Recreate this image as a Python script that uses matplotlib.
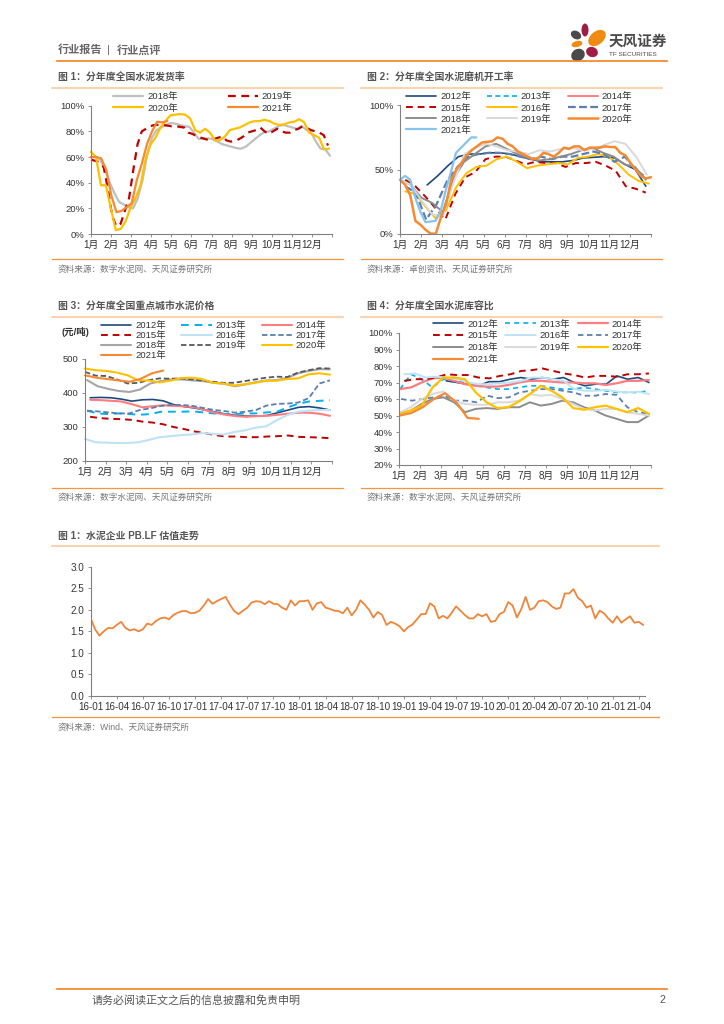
import numpy as np
import matplotlib
matplotlib.use('Agg')
import matplotlib.pyplot as plt
from matplotlib.patches import Ellipse

plt.rcParams['font.family'] = ['Liberation Sans', 'Noto Sans CJK SC', 'DejaVu Sans']
W, H = 724, 1024
months = ['1月','2月','3月','4月','5月','6月','7月','8月','9月','10月','11月','12月','']

# Chart 1: shipment rate (quarter-month readings)
c1_2018 = [60,60,58,50,40,32,25,23,21,20,28,42,62,75,81,83,85,86.5,86,85,84,83.5,79,74,74.5,74.5,74,72,70,69,68,67,66.5,68,71,74,77,79.5,80,82,84,85,84,83,82,84,81,79,72,66.5,66,61]
c1_2019 = [58,57,56,52,35,14,6,8,18,28,50,70,80,82,84,85,85,85,84.5,84,84,83.5,83,79,78,76,75,74,73,74,75,76,73,72,72.5,74,76,79,80,81,83,80,78,80,82,80,79,79,81,82,84,82.5,81,80,79,77,69]
c1_2020 = [64,60,38,38,20,3,4,10,21,28,38,58,70,75,83,88,92.5,93,93.5,93,90,81,79,82,79,73,73,76,81,82,83,85,87,88,88,89,88,86,85,85.5,87,87.5,89.5,87,79,77,75,66,66.5]
c1_2021 = [60,60,59,50,30,17,18,21,24,42,55,70,80,87.5,87,88]

# Chart 2: mill operating rate
c2_2012 = [38,45,53,60,62,62,63,63,62,60,58,56,56,56,57,59,59.5,60,59,54,50,37]
c2_2013 = []
c2_2014 = []
c2_2015 = [42,37,29,20,11,31,44,48,58,60,60,57,54,56,55,55,52,55,55,56,53,49,37,35,32]
c2_2016 = [33,31,21,12,18,36,47,52,53,58,60,56,51,53,54,55,54,59,60,62,60,54,46,41,39]
c2_2017 = [37,32,11,23,41,52,60,62,63,63,62,60,58,60,58,60,60,62,64,62,56,60,50,44]
c2_2018 = [42,38,28,24,17,43,56,62,68,70,66,62,59,57,58,60,62,65,67,63,60,54,52,42]
c2_2019 = [42,38,26,15,14,40,62,67,70,68,65,64,62,65,64,66,67,65,66,69,72,70,60,46]
c2_2020 = [42,38,30,10,7,3,0,0,13,23,42,50,55,61,65,68,71,71.5,72,75,74,70,68,64,62,60,58,59,63,62,60,63,67,66,68,68,65,67,67,67,68,67.5,67.5,63,61,55,50,45,43,44]
c2_2021 = [42,45,42,28,17,9,9.5,10,18,34,48,63,67,71,75,75]

# Chart 3: cement price, yuan per tonne
c3_2012 = [386,387,386,382,376,380,381,377,366,360,356,350,344,338,334,332,332,334,342,350,358,360,356,350]
c3_2013 = [348,340,338,340,338,336,338,345,345,345,346,343,340,338,338,340,340,343,345,358,368,375,377,379]
c3_2014 = [380,379,377,375,367,358,361,364,362,361,358,350,342,336,332,330,332,333,336,339,342,342,339,333]
c3_2015 = [330,326,324,323,321,316,313,308,300,294,287,282,276,272,272,270,270,272,273,275,271,270,269,267]
c3_2016 = [265,255,254,253,253,255,262,270,273,276,278,282,280,278,285,290,298,302,320,335,345,348,350,350]
c3_2017 = [348,346,343,340,340,350,355,362,365,365,362,356,350,347,342,345,350,363,368,369,372,385,428,437]
c3_2018 = [438,420,412,406,403,410,428,435,440,440,437,435,430,427,420,425,432,437,438,445,458,465,470,470]
c3_2019 = [462,451,450,440,428,430,438,443,442,443,440,437,433,430,430,435,440,445,448,447,460,467,473,472]
c3_2020 = [472,467,465,460,452,437,437,431,436,444,445,441,430,428,422,426,430,436,436,441,443,455,458,454]
c3_2021 = [452,445,441,437,433,442,458,466]

# Chart 4: storage ratio
c4_2012 = [71,70,69,68,70.5,70.5,72,73,72,73,72,73,70,68,69,69,74,72,73,70]
c4_2013 = [66,75,72,67,72,71,70,68,67,66,66,67,68,68,67,66,66,67,66,65,64,64,64,65]
c4_2014 = [66,67,70,72.5,73,71,69,68,67.5,67.5,68.5,70,71,71,70.5,70,70,69.5,69.5,68.5,69.5,71,71,71.5]
c4_2015 = [71,72,72,73,75,74.5,74.5,73,72.5,74,75,77,77.5,78.5,77,75.5,74.5,73,74,74,73.5,75,75,75.5]
c4_2016 = [75,75.5,73,73.5,73,72,70,69,69,69.5,70,71,73,73,72,71,66,65,65,65.5,64.5,64,64.5,63]
c4_2017 = [60,59,60,61,62,59,59,58,62,60.5,61,64,65,66,66,65,64,62,62,63,62.5,55,52,51]
c4_2018 = [51,53,57,60,61,58,52,54,54.5,54,55,55,58,56,57,59,58,55,53,50,48,46,46,50]
c4_2019 = [52,55,60,63,64.5,59,57,56.5,56.5,58,58,59,63,62,62.5,60,57,54,53,54,54,52,51,50]
c4_2020 = [51,53,56,67,73,73,72,64,58,54.5,55,58.5,63,68,65,61,54.5,53.5,55,56,54,52,54.5,51]
c4_2021 = [50,51.5,55,60,63.5,58,48.5,48]

# Chart 5: PB-LF, half-month readings from 2016-01
pb_values = [1.80,1.55,1.40,1.50,1.58,1.57,1.65,1.72,1.58,1.52,1.55,1.50,1.55,1.68,1.65,1.74,
 1.80,1.82,1.78,1.88,1.93,1.97,1.97,1.92,1.93,1.98,2.10,2.25,2.14,2.20,2.25,2.30,
 2.12,1.97,1.90,1.98,2.05,2.17,2.20,2.19,2.13,2.20,2.14,2.13,2.05,2.00,2.22,2.10,
 2.20,2.20,2.22,2.00,2.15,2.18,2.05,2.02,1.98,1.97,1.92,2.05,1.87,2.00,2.22,2.12,
 2.00,1.82,1.95,1.88,1.65,1.72,1.68,1.62,1.50,1.60,1.66,1.78,1.90,1.90,2.15,2.08,
 1.80,1.86,1.80,1.93,2.08,1.98,1.88,1.80,1.80,1.90,1.85,1.90,1.72,1.74,1.90,1.95,
 2.18,2.10,1.82,2.02,2.30,2.00,2.05,2.20,2.22,2.18,2.08,2.02,2.05,2.38,2.38,2.48,
 2.28,2.20,2.05,2.10,1.80,1.98,1.92,1.80,1.70,1.85,1.70,1.78,1.85,1.70,1.72,1.65]
pb_labels = ['16-01','16-04','16-07','16-10','17-01','17-04','17-07','17-10','18-01','18-04','18-07','18-10',
 '19-01','19-04','19-07','19-10','20-01','20-04','20-07','20-10','21-01','21-04']

NAVY, CYAN, SALMON, RED = '#1F497D', '#00B0F0', '#FF7C80', '#C00000'
PALE, STEEL, GREY, LIGHT = '#BDE3F5', '#5B7FB0', '#8C8C8C', '#D9D9D9'
YELLOW, ORANGE, SKY, DARK = '#FFC000', '#F58A33', '#85C4EE', '#595959'
LINE_O, LINE_L = '#F58220', '#F9C594'
TXT = '#333333'

fig = plt.figure(figsize=(W/100, H/100), dpi=100)
bg = fig.add_axes([0, 0, 1, 1])
bg.set_xlim(0, W); bg.set_ylim(H, 0); bg.axis('off')

def make_ax(l, r, t, b):
    ax = fig.add_axes([l/W, 1-b/H, (r-l)/W, (b-t)/H])
    ax.patch.set_alpha(0)
    for s in ('top', 'right'):
        ax.spines[s].set_visible(False)
    for s in ('left', 'bottom'):
        ax.spines[s].set_color('#808080'); ax.spines[s].set_linewidth(0.8)
    ax.tick_params(colors=TXT, labelsize=6.8, length=2.5, width=0.6, color='#808080', pad=2)
    return ax

def month_axis(ax):
    ax.set_xlim(0, 12)
    ax.set_xticks(range(13))
    ax.set_xticklabels(months, fontsize=7.1)

def draw(ax, vals, start, end, color, label, lw=1.6, dash=None):
    x = np.linspace(start, end, len(vals)) if len(vals) else []
    line, = ax.plot(x, vals, color=color, lw=lw, label=label, solid_capstyle='round', clip_on=False)
    if dash:
        line.set_linestyle((0, dash))
    return line

def legend(ax, handles, x, y, gap, rowsp, ncol=3):
    ax.legend(handles=handles, loc='upper left', bbox_to_anchor=(x/W, 1-y/H), bbox_transform=fig.transFigure,
              ncol=ncol, frameon=False, fontsize=6.8, borderpad=0, borderaxespad=0, handlelength=3.2,
              handletextpad=0.4, columnspacing=gap, labelspacing=rowsp, labelcolor=TXT)

def frame(x0, x1, title, ytitle, ytop, ybot, source, ysrc, xt):
    bg.text(xt, ytitle, title, fontsize=7.1, fontweight='bold', color='#555555', va='center', ha='left')
    bg.plot([x0, x1], [ytop, ytop], color=LINE_L, lw=1.1)
    bg.plot([x0, x1], [ybot, ybot], color=LINE_O, lw=0.9, alpha=0.85)
    bg.text(xt, ysrc, source, fontsize=6.2, color='#777777', va='center', ha='left')

# Page furniture
bg.text(58, 50, '行业报告', fontsize=8.0, fontweight='bold', color='#666666', va='center')
bg.text(108, 50, '|', fontsize=8.0, color='#666666', va='center', ha='center')
bg.text(117, 50, '行业点评', fontsize=8.0, fontweight='bold', color='#666666', va='center')
bg.plot([57, 667], [61, 61], color=LINE_O, lw=1.2)
bg.plot([57, 667], [989, 989], color=LINE_O, lw=1.2)
bg.text(92, 1000, '请务必阅读正文之后的信息披露和免责申明', fontsize=7.95, color='#555555', va='center')
bg.text(660, 1000, '2', fontsize=7.6, color='#555555', va='center')
for (cx, cy, w, h, a, c) in [(576, 35, 11, 8, 30, '#4A4A4A'), (585, 30, 7, 13, 0, '#A01C44'), (597, 38, 13, 20, 50, '#F08A12'),
                             (577, 44, 11, 6, -15, '#F08A12'), (578, 55, 14, 12, -30, '#4A4A4A'), (592, 52, 12, 10, 20, '#A01C44')]:
    bg.add_patch(Ellipse((cx, cy), w, h, angle=a, color=c, lw=0))
bg.text(609, 42, '天风证券', fontsize=10.5, fontweight='bold', color='#4A4A4A', va='center')
bg.text(609, 55, 'TF SECURITIES', fontsize=4.6, color='#4A4A4A', va='center')

frame(52, 343, '图 1：分年度全国水泥发货率', 77, 88, 259, '资料来源：数字水泥网、天风证券研究所', 269, 58)
frame(361, 662, '图 2：分年度全国水泥磨机开工率', 77, 88, 259, '资料来源：卓创资讯、天风证券研究所', 269, 367)
frame(52, 343, '图 3：分年度全国重点城市水泥价格', 307, 317, 488, '资料来源：数字水泥网、天风证券研究所', 497, 58)
frame(361, 662, '图 4：分年度全国水泥库容比', 307, 317, 488, '资料来源：数字水泥网、天风证券研究所', 497, 367)
frame(52, 659, '图 1：水泥企业 PB.LF 估值走势', 536, 546, 717, '资料来源：Wind、天风证券研究所', 727, 58)

# Chart 1
ax = make_ax(91, 332, 105.7, 234)
month_axis(ax)
ax.set_ylim(0, 100); ax.set_yticks(range(0, 101, 20)); ax.set_yticklabels([f'{v}%' for v in range(0, 101, 20)])
a = draw(ax, c1_2018, 0, 11.9, '#BFBFBF', '2018年', 1.6)
b = draw(ax, c1_2019, 0, 11.8, RED, '2019年', 1.6, (3.5, 2.5))
c = draw(ax, c1_2020, 0, 11.85, YELLOW, '2020年', 1.6)
d = draw(ax, c1_2021, 0, 3.8, ORANGE, '2021年', 1.6)
legend(ax, [a, c, b, d], 113, 92.5, 5.3, 0.22, ncol=2)

# Chart 2
ax = make_ax(400, 651, 105.3, 233.7)
month_axis(ax)
ax.set_ylim(0, 100); ax.set_yticks([0, 50, 100]); ax.set_yticklabels(['0%', '50%', '100%'])
h = {}
h[2012] = draw(ax, c2_2012, 1.3, 11.75, NAVY, '2012年', 1.2)
h[2013] = draw(ax, c2_2013, 0, 12, CYAN, '2013年', 1.2, (3, 2))
h[2014] = draw(ax, c2_2014, 0, 12, SALMON, '2014年', 1.4)
h[2015] = draw(ax, c2_2015, 0.25, 11.75, RED, '2015年', 1.4, (3.5, 2.5))
h[2016] = draw(ax, c2_2016, 0.25, 11.9, YELLOW, '2016年', 1.4)
h[2017] = draw(ax, c2_2017, 0.25, 11.75, STEEL, '2017年', 1.6, (3.5, 1.5))
h[2018] = draw(ax, c2_2018, 0.0, 11.75, GREY, '2018年', 1.4)
h[2019] = draw(ax, c2_2019, 0.0, 11.8, LIGHT, '2019年', 1.4)
h[2020] = draw(ax, c2_2020, 0, 12, ORANGE, '2020年', 1.8)
h[2021] = draw(ax, c2_2021, 0, 3.65, SKY, '2021年', 1.6)
order = [2012, 2015, 2018, 2021, 2013, 2016, 2019, 2014, 2017, 2020]
legend(ax, [h[y] for y in order], 406, 92.5, 1.7, 0.22)

# Chart 3
ax = make_ax(85, 332, 359, 461)
month_axis(ax)
ax.set_ylim(200, 500); ax.set_yticks(range(200, 501, 100))
h = {}
h[2012] = draw(ax, c3_2012, 0.25, 11.9, NAVY, '2012年', 1.2)
h[2013] = draw(ax, c3_2013, 0.1, 11.9, CYAN, '2013年', 1.4, (4, 3))
h[2014] = draw(ax, c3_2014, 0.25, 11.9, SALMON, '2014年', 1.5)
h[2015] = draw(ax, c3_2015, 0.25, 11.9, RED, '2015年', 1.4, (3.5, 2.5))
h[2016] = draw(ax, c3_2016, 0.0, 11.9, PALE, '2016年', 1.5)
h[2017] = draw(ax, c3_2017, 0.1, 11.9, STEEL, '2017年', 1.3, (3, 1.5))
h[2018] = draw(ax, c3_2018, 0.1, 11.9, '#A6A6A6', '2018年', 1.5)
h[2019] = draw(ax, c3_2019, 0.0, 11.9, DARK, '2019年', 1.3, (3, 1.5))
h[2020] = draw(ax, c3_2020, 0.0, 11.9, YELLOW, '2020年', 1.5)
h[2021] = draw(ax, c3_2021, 0.0, 3.8, ORANGE, '2021年', 1.5)
legend(ax, [h[y] for y in order], 101, 321, 1.65, 0.11)
bg.text(62, 332, '(元/吨)', fontsize=6.8, fontweight='bold', color=TXT, va='center')

# Chart 4
ax = make_ax(399, 651, 333, 465)
month_axis(ax)
ax.set_ylim(20, 100); ax.set_yticks(range(20, 101, 10)); ax.set_yticklabels([f'{v}%' for v in range(20, 101, 10)])
h = {}
h[2012] = draw(ax, c4_2012, 2.25, 11.9, NAVY, '2012年', 1.2)
h[2013] = draw(ax, c4_2013, 0.05, 11.9, CYAN, '2013年', 1.2, (3, 2.5))
h[2014] = draw(ax, c4_2014, 0.05, 11.9, SALMON, '2014年', 1.6)
h[2015] = draw(ax, c4_2015, 0.25, 11.9, RED, '2015年', 1.4, (3.5, 2.5))
h[2016] = draw(ax, c4_2016, 0.25, 11.9, PALE, '2016年', 1.4)
h[2017] = draw(ax, c4_2017, 0.1, 11.9, STEEL, '2017年', 1.3, (3, 2))
h[2018] = draw(ax, c4_2018, 0.05, 11.9, GREY, '2018年', 1.4)
h[2019] = draw(ax, c4_2019, 0.05, 11.9, LIGHT, '2019年', 1.4)
h[2020] = draw(ax, c4_2020, 0.05, 11.9, YELLOW, '2020年', 1.6)
h[2021] = draw(ax, c4_2021, 0.05, 3.8, ORANGE, '2021年', 1.6)
legend(ax, [h[y] for y in order], 433, 319.5, 0.8, 0.3)

# Chart 5
ax = make_ax(90.7, 645, 566.7, 696)
ax.plot(np.arange(len(pb_values))/6, pb_values, color='#F0853A', lw=1.3)
ax.set_xlim(0, 21.24)
ax.set_ylim(0, 3); ax.set_yticks(np.arange(0, 3.01, 0.5)); ax.set_yticklabels([f'{v:.1f}' for v in np.arange(0, 3.01, 0.5)])
ax.set_xticks(range(len(pb_labels))); ax.set_xticklabels(pb_labels)
ax.tick_params(labelsize=7.1)

fig.savefig('out.png', dpi=100)
